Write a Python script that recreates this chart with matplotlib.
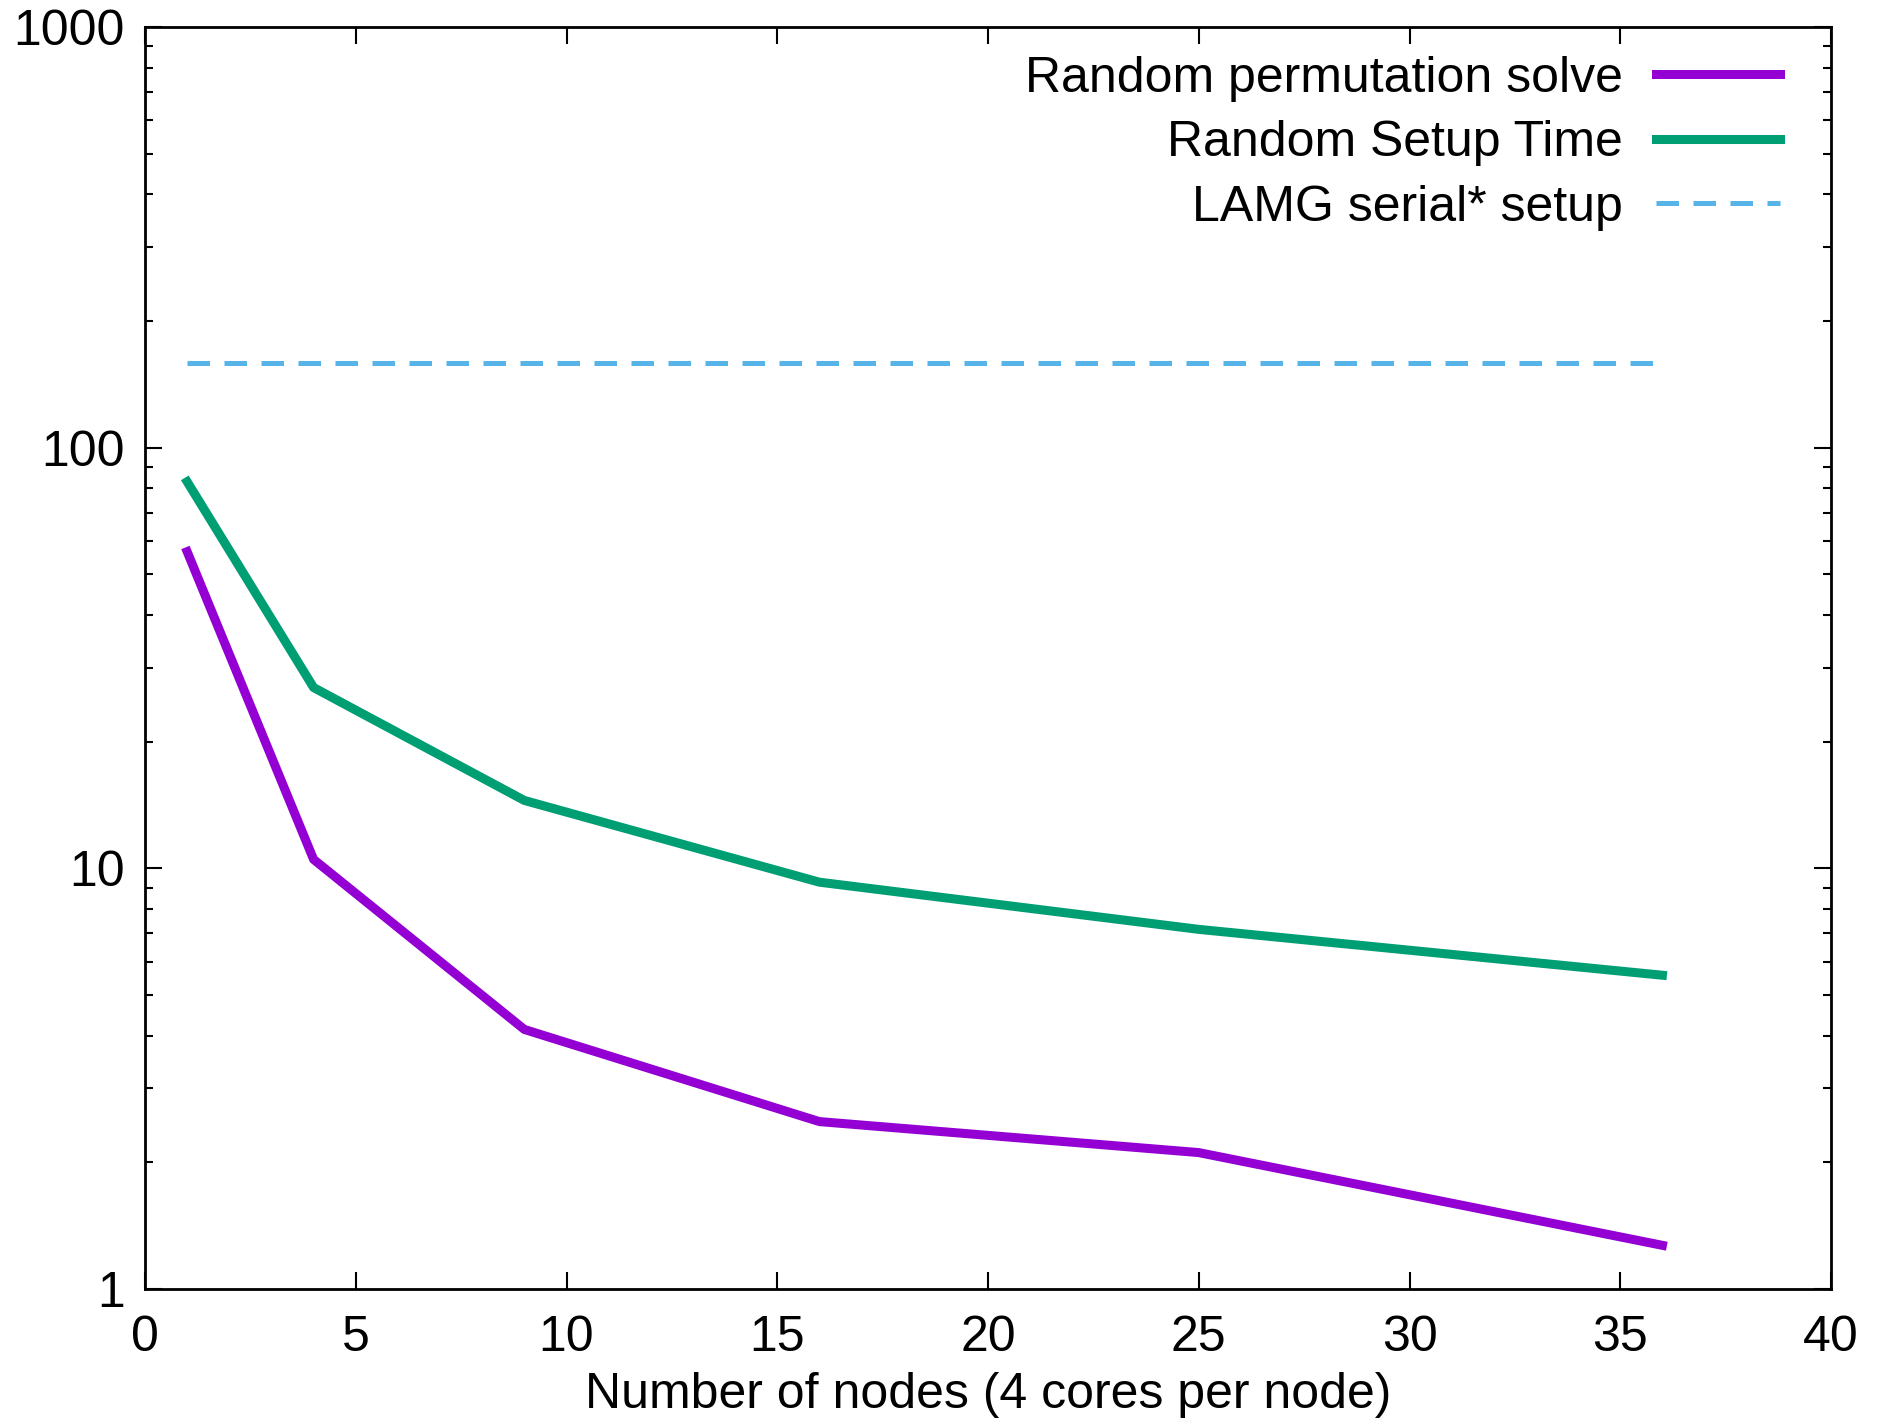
import matplotlib
matplotlib.use("Agg")
import matplotlib.pyplot as plt
from matplotlib.ticker import LogLocator, NullFormatter, FixedLocator

# data
nodes = [1, 4, 9, 16, 25, 36]
solve_time = [56.6, 10.5, 4.14, 2.5, 2.11, 1.27]
setup_time = [83, 26.9, 14.5, 9.27, 7.16, 5.57]
lamg_x = [1, 36]
lamg_setup = [158.8, 158.8]

plt.rcParams['font.family'] = ['Liberation Sans', 'DejaVu Sans']

fig = plt.figure(figsize=(18.95, 14.25), dpi=100)
ax = fig.add_axes([145 / 1895, 1 - 1289 / 1425, (1831 - 145) / 1895, (1289 - 27) / 1425])

ax.plot(nodes, solve_time, "-", color="#9400d3", lw=6.5, label="Random permutation solve")
ax.plot(nodes, setup_time, "-", color="#009e73", lw=6.5, label="Random Setup Time")
ax.plot(lamg_x, lamg_setup, "--", color="#56b4e9", lw=3.6, dashes=(4.5, 2.9),
        label="LAMG serial* setup")

ax.set_yscale("log")
ax.set_xlim(0, 40)
ax.set_ylim(1, 1000)
ax.xaxis.set_major_locator(FixedLocator(range(0, 41, 5)))
ax.yaxis.set_major_locator(FixedLocator([1, 10, 100, 1000]))
ax.yaxis.set_major_formatter(matplotlib.ticker.FuncFormatter(lambda v, p: "%d" % v))
ax.yaxis.set_minor_locator(LogLocator(base=10, subs=range(2, 10)))
ax.yaxis.set_minor_formatter(NullFormatter())

ax.tick_params(which="both", direction="in", top=True, right=True, labelsize=36, width=1.5)
ax.tick_params(which="major", length=12)
ax.tick_params(which="minor", length=6)
ax.tick_params(axis="x", which="major", pad=19)
ax.tick_params(axis="y", which="major", pad=14.5)
for s in ax.spines.values():
    s.set_linewidth(2)

ax.set_xlabel("Number of nodes (4 cores per node)", fontsize=36, labelpad=8)

ax.legend(loc="upper right", bbox_to_anchor=(0.9816, 0.9929), fontsize=36,
          frameon=False, markerfirst=False,
          handlelength=2.48, handletextpad=0.66, labelspacing=0.37,
          borderaxespad=0)

fig.savefig("out.png", dpi=100)
